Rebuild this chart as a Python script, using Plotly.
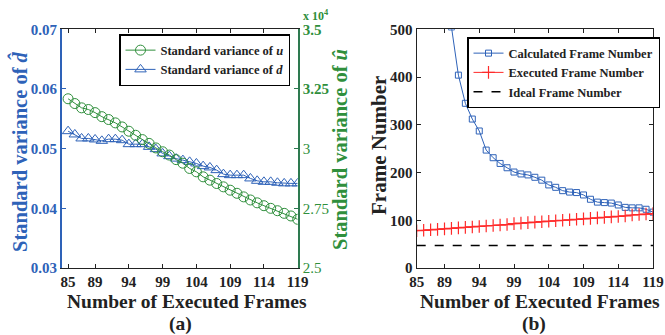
import plotly.graph_objects as go

# ---------------- data ----------------
frames = list(range(85, 120))

# (a) standard variance of u (right axis, x1e4 units stored raw)
u_std = [32090, 31890, 31710, 31640, 31510, 31340, 31220, 31080, 30910, 30730,
         30560, 30380, 30220, 30030, 29870, 29730, 29540, 29390, 29170, 29030,
         28820, 28680, 28540, 28400, 28260, 28130, 27980, 27850, 27730, 27610,
         27500, 27400, 27290, 27180, 27040]
# (a) standard variance of d (left axis)
d_std = [0.05293, 0.05238, 0.05171, 0.05171, 0.05154, 0.05131, 0.05159, 0.05159,
         0.05142, 0.05075, 0.05075, 0.05075, 0.05030, 0.04992, 0.04920, 0.04874,
         0.04833, 0.04808, 0.04779, 0.04752, 0.04707, 0.04685, 0.04640, 0.04573,
         0.04556, 0.04556, 0.04556, 0.04501, 0.04461, 0.04444, 0.04444, 0.04428,
         0.04418, 0.04418, 0.04418]

# (b)
calculated = [1400, 1050, 830, 680, 580, 505, 404, 345, 312, 287, 247, 231, 219,
              210, 201, 197, 195, 190, 184, 174, 169, 162, 159, 158, 153, 144,
              138, 137, 136, 132, 127, 126, 126, 123, 117]
executed = [78, 79, 80, 81, 82, 83, 84, 85, 86, 87, 88, 89, 90, 91, 93, 94, 95,
            96, 97, 98, 99, 100, 101, 102, 103, 104, 105, 106, 107, 108, 109,
            111, 112, 113, 114]
ideal = [47] * len(frames)

x_ticks = [85, 89, 94, 99, 104, 109, 114, 119]
left_ticks = [0.03, 0.04, 0.05, 0.06, 0.07]
left_ticktext = ["0.03", "0.04", "0.05", "0.06", "0.07"]
right_ticks = [25000, 27500, 30000, 32500, 35000]
right_ticktext = ["2.5", "2.75", "3", "<b>3.25</b>", "<b>3.5</b>"]
b_ticks = [0, 100, 200, 300, 400, 500]

# ---------------- style ----------------
BLUE = "#2e62b8"
GREEN = "#2f8f3c"
GREEN_AX = "#2e7a50"
RED = "#ff2a2a"
FONT = "Liberation Serif"
W, H = 665, 335

def px(x):
    return x / W

def py(y):
    return 1 - y / H

xa_dom = [px(62), px(297.7)]
xb_dom = [px(416.7), px(653)]
y_dom = [py(268), py(29.3)]

fig = go.Figure()

fig.add_trace(go.Scatter(
    x=frames, y=u_std, xaxis="x", yaxis="y2", mode="lines+markers",
    name="Standard variance of <i>u</i>", legend="legend",
    line=dict(color=GREEN, width=1),
    marker=dict(symbol="circle-open", size=10, color=GREEN, line=dict(width=1)),
))
fig.add_trace(go.Scatter(
    x=frames, y=d_std, xaxis="x", yaxis="y", mode="lines+markers",
    name="Standard variance of <i>d</i>", legend="legend",
    line=dict(color=BLUE, width=1),
    marker=dict(symbol="triangle-up-open", size=10, color=BLUE, line=dict(width=1)),
))

fig.add_trace(go.Scatter(
    x=frames, y=calculated, xaxis="x2", yaxis="y3", mode="lines+markers",
    name="Calculated Frame Number", legend="legend2",
    line=dict(color=BLUE, width=1),
    marker=dict(symbol="square-open", size=6, color=BLUE, line=dict(width=1)),
))
fig.add_trace(go.Scatter(
    x=frames, y=executed, xaxis="x2", yaxis="y3", mode="lines+markers",
    name="Executed Frame Number", legend="legend2",
    line=dict(color=RED, width=1),
    marker=dict(symbol="cross-thin-open", size=9, color=RED, line=dict(width=1.2, color=RED)),
))
fig.add_trace(go.Scatter(
    x=frames, y=ideal, xaxis="x2", yaxis="y3", mode="lines",
    name="Ideal Frame Number", legend="legend2",
    line=dict(color="black", width=1.5, dash="dash"),
))

tickfont = dict(family=FONT, size=15, color="#222222", weight="bold")
common = dict(ticks="inside", ticklen=4, showgrid=False, zeroline=False,
              showline=True, automargin=False)

fig.update_layout(
    width=W, height=H,
    margin=dict(l=0, r=0, t=0, b=0, autoexpand=False),
    paper_bgcolor="white", plot_bgcolor="white",
    font=dict(family=FONT, weight="bold", color="#222222"),
    xaxis=dict(domain=xa_dom, anchor="y", range=[84.1, 119], tickvals=x_ticks,
               tickcolor="#222222", linecolor="#222222", linewidth=1.2,
               mirror="ticks", tickfont=tickfont, **common),
    yaxis=dict(domain=y_dom, anchor="x", range=[0.03, 0.07], tickvals=left_ticks,
               ticktext=left_ticktext, tickcolor=BLUE, linecolor=BLUE,
               linewidth=2, tickfont=dict(family=FONT, size=15, color=BLUE, weight="bold"),
               **common),
    yaxis2=dict(overlaying="y", anchor="x", side="right", range=[25000, 35000],
                tickvals=right_ticks, ticktext=right_ticktext, tickcolor=GREEN_AX,
                linecolor=GREEN_AX, linewidth=2,
                tickfont=dict(family=FONT, size=15, color=GREEN, weight="normal"),
                **common),
    xaxis2=dict(domain=xb_dom, anchor="y3", range=[85, 119], tickvals=x_ticks,
                tickcolor="#222222", linecolor="#222222", linewidth=1.2,
                mirror="ticks", tickfont=tickfont, **common),
    yaxis3=dict(domain=y_dom, anchor="x2", range=[0, 500], tickvals=b_ticks,
                tickcolor="#222222", linecolor="#222222", linewidth=1.2,
                mirror="ticks", tickfont=tickfont, **common),
    legend=dict(x=px(119), y=py(34), xanchor="left", yanchor="top",
                bgcolor="white", bordercolor="black", borderwidth=1.5,
                font=dict(family=FONT, size=12.5, color="#222222", weight="bold"),
                tracegroupgap=0, itemwidth=30),
    legend2=dict(x=px(467), y=py(37), xanchor="left", yanchor="top",
                 bgcolor="white", bordercolor="black", borderwidth=1.5,
                 font=dict(family=FONT, size=12.5, color="#222222", weight="bold"),
                 tracegroupgap=0, itemwidth=30),
    showlegend=True,
)

ann_font = dict(family=FONT, size=19.5, color="#222222", weight="bold")

def ann(text, x, y, font, angle=0):
    return dict(text=text, x=px(x), y=py(y), xref="paper", yref="paper",
                xanchor="center", yanchor="middle", showarrow=False,
                textangle=angle, font=font)

annotations = [
    ann("Number of Executed Frames", 187, 301, ann_font),
    ann("(a)", 181, 324, ann_font),
    ann("Number of Executed Frames", 540, 301, ann_font),
    ann("(b)", 534, 324, ann_font),
    ann("Standard variance of <i>d̂</i>", 19, 152,
        dict(family=FONT, size=20.5, color=BLUE, weight="bold"), -90),
    ann("Standard variance of <i>û</i>", 340, 150,
        dict(family=FONT, size=20.5, color=GREEN, weight="bold"), -90),
    ann("Frame Number", 379, 146, dict(family=FONT, size=21, color="#222222", weight="bold"), -90),
    ann("x 10<sup>4</sup>", 316, 15,
        dict(family=FONT, size=12, color=GREEN, weight="bold")),
]
fig.update_layout(annotations=annotations)

fig.write_html(
    "out.html",
    config={"displayModeBar": False},
    post_script="document.body.style.margin='0';document.body.style.overflow='hidden';",
)
